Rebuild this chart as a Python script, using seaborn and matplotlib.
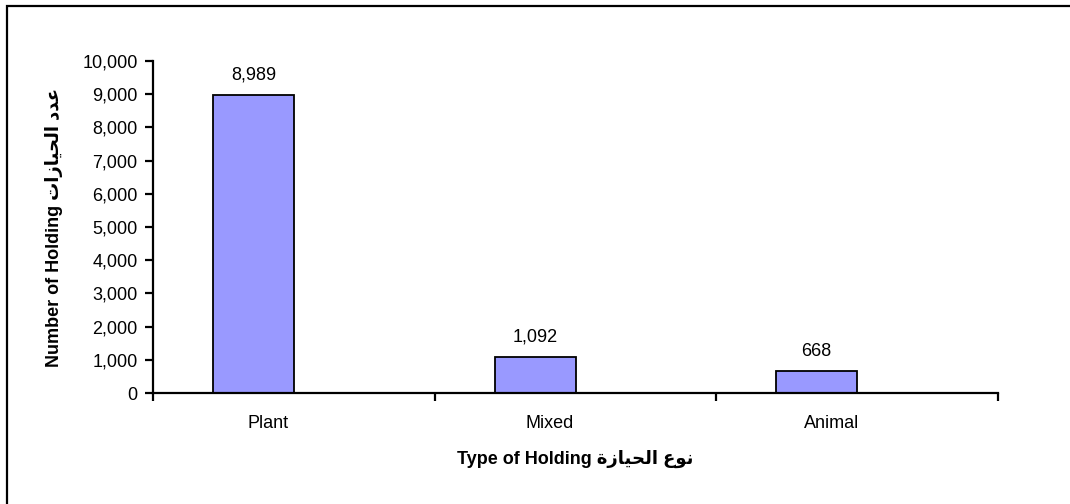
import matplotlib
matplotlib.use("Agg")
import matplotlib.pyplot as plt
import matplotlib.transforms as mtransforms
from matplotlib.patches import Rectangle
import seaborn as sns
import pandas as pd

# data
categories = ["Plant", "Mixed", "Animal"]
holdings = [8989, 1092, 668]
empty_series = [0, 0, 0]   # Excel layout: bars sit left of the category centre

# Arabic text stored as presentation forms in visual order (matplotlib does no shaping)
ylabel_text = "Number of Holding " + "\ufe95\ufe8d\ufeaf\ufe8e\ufef4\ufea4\ufedf\ufe8d \ufea9\ufeaa\ufecb"
xlabel_text = "Type of Holding " + "\ufe93\ufeaf\ufe8e\ufef4\ufea4\ufedf\ufe8d \ufec9\ufeee\ufee7"

df = pd.DataFrame({
    "type": categories * 2,
    "count": holdings + empty_series,
    "series": ["holdings"] * 3 + ["blank"] * 3,
})

sns.set_style("white")
plt.rcParams["font.family"] = ["Liberation Sans", "DejaVu Sans"]
plt.rcParams["text.color"] = "black"
plt.rcParams["axes.labelcolor"] = "black"
plt.rcParams["xtick.color"] = "black"
plt.rcParams["ytick.color"] = "black"

fs = 13

fig = plt.figure(figsize=(10.7, 5.04), dpi=100)
ax = fig.add_axes([153 / 1070, 1 - 393 / 504, (998 - 153) / 1070, (393 - 61) / 504])

sns.barplot(data=df, x="type", y="count", hue="series", order=categories,
            hue_order=["holdings", "blank"], palette=["#9999FF", "#9999FF"],
            saturation=1, width=0.575, dodge=True, edgecolor="black", linewidth=1.3,
            legend=False, ax=ax)

for bar in ax.containers[1]:
    bar.set_visible(False)

ax.bar_label(ax.containers[0], labels=[f"{v:,}" for v in holdings],
             padding=8, fontsize=fs)

ax.set_xlim(-0.5, 2.5)
ax.set_ylim(0, 10000)
ax.set_yticks(range(0, 10001, 1000))
ax.yaxis.set_major_formatter(matplotlib.ticker.FuncFormatter(lambda v, p: f"{int(v):,}"))

# tick marks at category boundaries, labels at the centres
ax.set_xticks([0, 1, 2])
ax.set_xticklabels(categories)
ax.set_xticks([-0.5, 0.5, 1.5, 2.5], minor=True)
ax.tick_params(axis="x", which="major", bottom=True, length=0, pad=16, labelsize=fs)
ax.tick_params(axis="x", which="minor", bottom=True, length=6, width=1.6, direction="out", color="black")
ax.tick_params(axis="y", left=True, length=6, width=1.6, direction="out", color="black",
               labelsize=fs, pad=5)
shift = mtransforms.ScaledTranslation(-26 / 100, 0, fig.dpi_scale_trans)
for lbl in ax.get_xticklabels():
    lbl.set_transform(lbl.get_transform() + shift)

for side in ["top", "right"]:
    ax.spines[side].set_visible(False)
for side in ["left", "bottom"]:
    ax.spines[side].set_color("black")
    ax.spines[side].set_linewidth(1.6)

ax.set_xlabel(xlabel_text, fontweight="bold", fontsize=fs, labelpad=13)
ax.set_ylabel(ylabel_text, fontweight="bold", fontsize=fs, labelpad=14)

# chart-area border (right and bottom fall outside the image)
fig.patches.append(Rectangle((7 / 1070, -0.2), 1.5, 1.2 - 6 / 504, transform=fig.transFigure,
                             fill=False, edgecolor="black", linewidth=1.6))

fig.savefig("out.png", dpi=100)
